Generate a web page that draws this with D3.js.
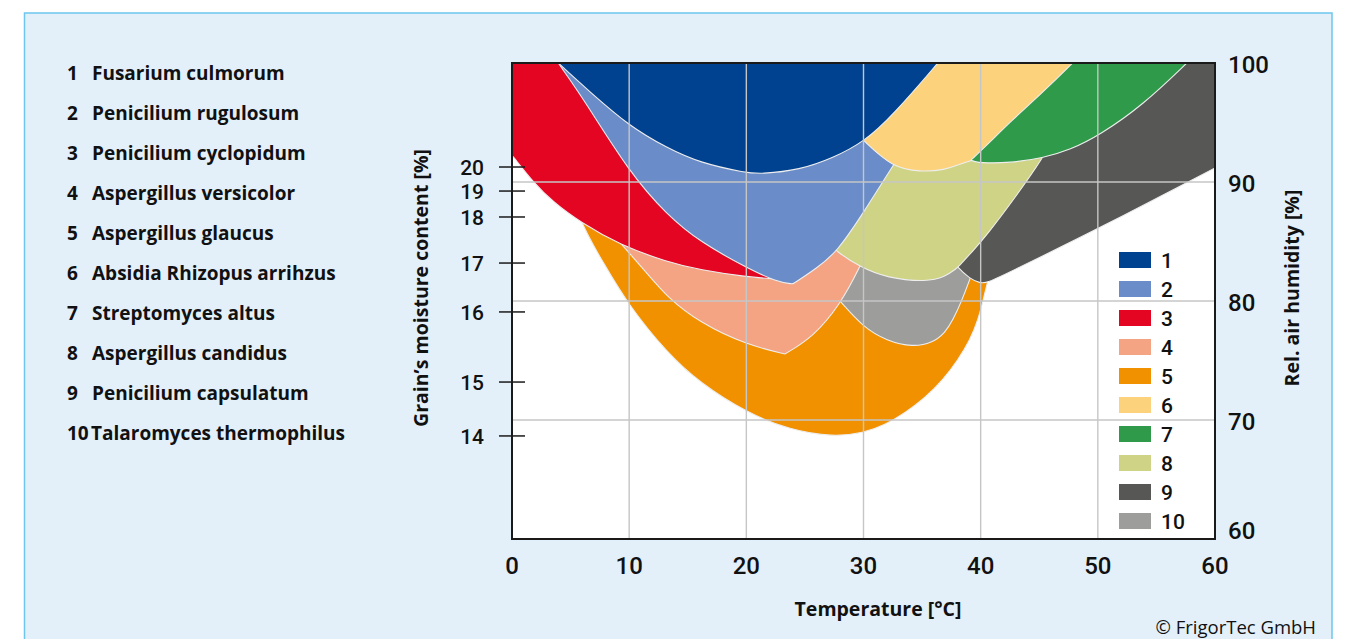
<!DOCTYPE html>
<html><head><meta charset="utf-8">
<script src="https://cdn.jsdelivr.net/npm/d3@7"></script>
<style>
body{margin:0;background:#fff;}
svg{display:block;}
text{font-family:Roboto,"Noto Sans","DejaVu Sans",sans-serif;}
.os{font-family:"Open Sans",Roboto,sans-serif;}
</style>
</head><body>
<svg id="chart" width="1345" height="639"></svg>
<script>
// ---------- data ----------
const speciesIds = [1,2,3,4,5,6,7,8,9,10];
const speciesNames = ["Fusarium culmorum","Penicilium rugulosum","Penicilium cyclopidum","Aspergillus versicolor","Aspergillus glaucus","Absidia Rhizopus arrihzus","Streptomyces altus","Aspergillus candidus","Penicilium capsulatum","Talaromyces thermophilus"];
const speciesColors = ["#00428f","#6a8cc8","#e30521","#f4a482","#f29100","#fdd27c","#2e9a4a","#cfd386","#575756","#9d9d9c"];
const tempTicks = [0,10,20,30,40,50,60];
const humidityTicks = [60,70,80,90,100];
const moistureTicks = [14,15,16,17,18,19,20];
const moistureAtHumidity = [68.66,73.19,79.08,83.19,87.06,89.24,91.26];

// lower growth limits: [temperature °C, rel. air humidity %]
const limit1 = [[3.24,100.7],[3.93,100],[6.66,97.56],[9.99,94.71],[13.23,92.86],[16.05,91.6],[20.06,90.76],[21.17,90.67],[24.58,91.01],[27.4,92.02],[30.04,93.36],[32.52,95.63],[36.36,100],[37.04,100.84]];
const limit2 = [[3.41,100.84],[3.93,100],[6.06,97.06],[9.99,90.84],[13.23,87.23],[16.05,84.96],[20.06,82.77],[22.62,81.6],[23.98,81.43],[23.98,81.43],[26.03,82.77],[27.74,84.12],[30.04,87.48],[32.43,91.26],[33.97,93.53],[35.25,95.63]];
const limit3 = [[-0.6,92.94],[0,92.27],[1.79,90.0],[3.5,88.32],[5.8,86.64],[9.22,84.71],[13.23,83.28],[16.05,82.61],[20.06,82.02],[22.53,81.85]];
const limit4 = [[7.94,86.39],[9.39,84.71],[11.52,82.35],[13.23,80.34],[16.05,78.15],[20.06,76.3],[23.3,75.55],[23.3,75.55],[23.3,75.55],[25.69,76.97],[27.99,79.66],[29.7,82.86],[30.72,85.13]];
const limit5 = [[4.1,91.85],[5.8,86.55],[7.77,83.28],[9.81,79.83],[13.23,75.63],[16.05,73.11],[20.06,70.59],[23.73,69.16],[27.4,68.57],[30.04,68.91],[31.83,69.58],[33.54,70.59],[35.25,71.85],[36.78,73.36],[38.06,75.04],[39.09,76.72],[39.77,78.4],[40.2,80.0],[40.54,81.43],[40.97,83.03]];
const limit6 = [[28.85,94.62],[30.13,93.36],[32.43,91.26],[34.82,90.84],[36.95,91.01],[38.24,91.5],[39.09,91.76],[39.09,91.76],[39.09,91.76],[40.8,93.36],[42.5,95.04],[45.06,97.31],[47.88,100],[48.9,101.09]];
const limit7 = [[37.81,92.86],[39.09,91.76],[39.94,91.6],[42.5,91.6],[45.32,92.02],[47.62,92.69],[50.18,93.95],[53.85,96.47],[57.61,100],[58.72,101.09]];
const limit8 = [[26.71,85.13],[27.74,84.12],[29.7,82.86],[32.0,81.93],[35.42,81.6],[36.95,82.02],[37.98,82.77],[37.98,82.77],[39.26,84.12],[40.54,85.55],[43.1,88.91],[45.32,92.02],[46.34,93.95]];
const limit9 = [[37.21,83.87],[37.98,82.86],[39.09,81.85],[39.94,81.51],[40.54,81.51],[42.5,82.44],[50.18,86.13],[60,91.18]];
const limit10 = [[27.14,80.92],[28.16,79.83],[29.96,77.82],[32.0,76.64],[34.22,76.13],[35.85,76.47],[36.95,77.31],[37.64,78.4],[38.41,80.08],[39.09,81.85],[39.6,83.28]];
const limits = {1:limit1,2:limit2,3:limit3,4:limit4,5:limit5,6:limit6,7:limit7,8:limit8,9:limit9,10:limit10};
const drawOrder = [5,10,4,3,9,8,2,7,6,1];

// ---------- layout ----------
const svg = d3.select("#chart");
const L = 512, R = 1215, T = 63, B = 539;
const x = d3.scaleLinear().domain([0,60]).range([L,R]);
const y = d3.scaleLinear().domain([60,100]).range([B,T]);

svg.append("rect").attr("x",24.5).attr("y",13).attr("width",1307.5).attr("height",700)
  .attr("fill","#e3f0fa").attr("stroke","#6cc6ee").attr("stroke-width",1.5);

svg.append("rect").attr("x",L).attr("y",T).attr("width",R-L).attr("height",B-T).attr("fill","#fff");

svg.append("defs").append("clipPath").attr("id","plotclip")
  .append("rect").attr("x",L).attr("y",T).attr("width",R-L).attr("height",B-T);

const area = d3.area()
  .x(d=>x(d[0])).y0(y(103)).y1(d=>y(d[1]))
  .curve(d3.curveBasis);

const gRegions = svg.append("g").attr("clip-path","url(#plotclip)");
drawOrder.forEach(id=>{
  gRegions.append("path").attr("d",area(limits[id]))
    .attr("fill",speciesColors[id-1]).attr("stroke","#eeeeee").attr("stroke-width",1.1);
});

// grid
const gGrid = svg.append("g").attr("stroke","#c6c6c6").attr("stroke-width",1.4);
tempTicks.filter(t=>t>0&&t<60).forEach(t=>{
  gGrid.append("line").attr("x1",x(t)).attr("x2",x(t)).attr("y1",T).attr("y2",B);
});
humidityTicks.filter(h=>h>60&&h<100).forEach(h=>{
  gGrid.append("line").attr("x1",L).attr("x2",R).attr("y1",y(h)).attr("y2",y(h));
});

// frame
svg.append("rect").attr("x",L).attr("y",T).attr("width",R-L).attr("height",B-T)
  .attr("fill","none").attr("stroke","#1a1a1a").attr("stroke-width",2);

// left moisture ticks
moistureTicks.forEach((m,i)=>{
  const yy = y(moistureAtHumidity[i]);
  svg.append("line").attr("x1",499).attr("x2",525).attr("y1",yy).attr("y2",yy)
    .attr("stroke","#1a1a1a").attr("stroke-width",1.5);
  svg.append("text").attr("x",484).attr("y",yy).attr("dy","0.36em").attr("text-anchor","end")
    .attr("font-size",21).attr("font-weight",500).attr("fill","#111").text(m);
});

// right humidity labels
humidityTicks.forEach(h=>{
  const yy = Math.min(y(h)+1, y(60)-9);
  svg.append("text").attr("x",1228).attr("y",yy).attr("dy","0.36em")
    .attr("font-size",24).attr("font-weight",500).attr("fill","#111").text(h);
});

// bottom temperature labels
tempTicks.forEach(t=>{
  svg.append("text").attr("x",x(t)).attr("y",565).attr("dy","0.36em").attr("text-anchor","middle")
    .attr("font-size",24).attr("font-weight",500).attr("fill","#111").text(t);
});

// axis titles
svg.append("text").attr("class","os").attr("x",878).attr("y",609).attr("dy","0.36em").attr("text-anchor","middle")
  .attr("font-size",19.5).attr("font-weight",700).attr("fill","#111").text("Temperature [°C]");
svg.append("text").attr("class","os").attr("transform","translate(421,288) rotate(-90)").attr("dy","0.36em").attr("text-anchor","middle")
  .attr("font-size",19.5).attr("font-weight",700).attr("fill","#111").text("Grain’s moisture content [%]");
svg.append("text").attr("class","os").attr("transform","translate(1292,288) rotate(-90)").attr("dy","0.36em").attr("text-anchor","middle")
  .attr("font-size",19.5).attr("font-weight",700).attr("fill","#111").text("Rel. air humidity [%]");
svg.append("text").attr("class","os").attr("x",1316).attr("y",627).attr("dy","0.36em").attr("text-anchor","end")
  .attr("font-size",18.5).attr("font-weight",400).attr("fill","#111").text("© FrigorTec GmbH");

// left species list
speciesIds.forEach((id,i)=>{
  const yy = 73 + i*40;
  svg.append("text").attr("class","os").attr("x",67).attr("y",yy).attr("dy","0.36em")
    .attr("font-size",19).attr("font-weight",700).attr("fill","#111").text(id);
  svg.append("text").attr("class","os").attr("x",id<10?92:91).attr("y",yy).attr("dy","0.36em")
    .attr("font-size",19).attr("font-weight",700).attr("fill","#111").text(speciesNames[i]);
});

// inner legend
speciesIds.forEach((id,i)=>{
  const yy = 260 + i*29;
  svg.append("rect").attr("x",1119).attr("y",yy-8).attr("width",32).attr("height",16)
    .attr("fill",speciesColors[i]);
  svg.append("text").attr("x",1161).attr("y",yy).attr("dy","0.36em")
    .attr("font-size",21).attr("font-weight",500).attr("fill","#111").text(id);
});
</script>
</body></html>
